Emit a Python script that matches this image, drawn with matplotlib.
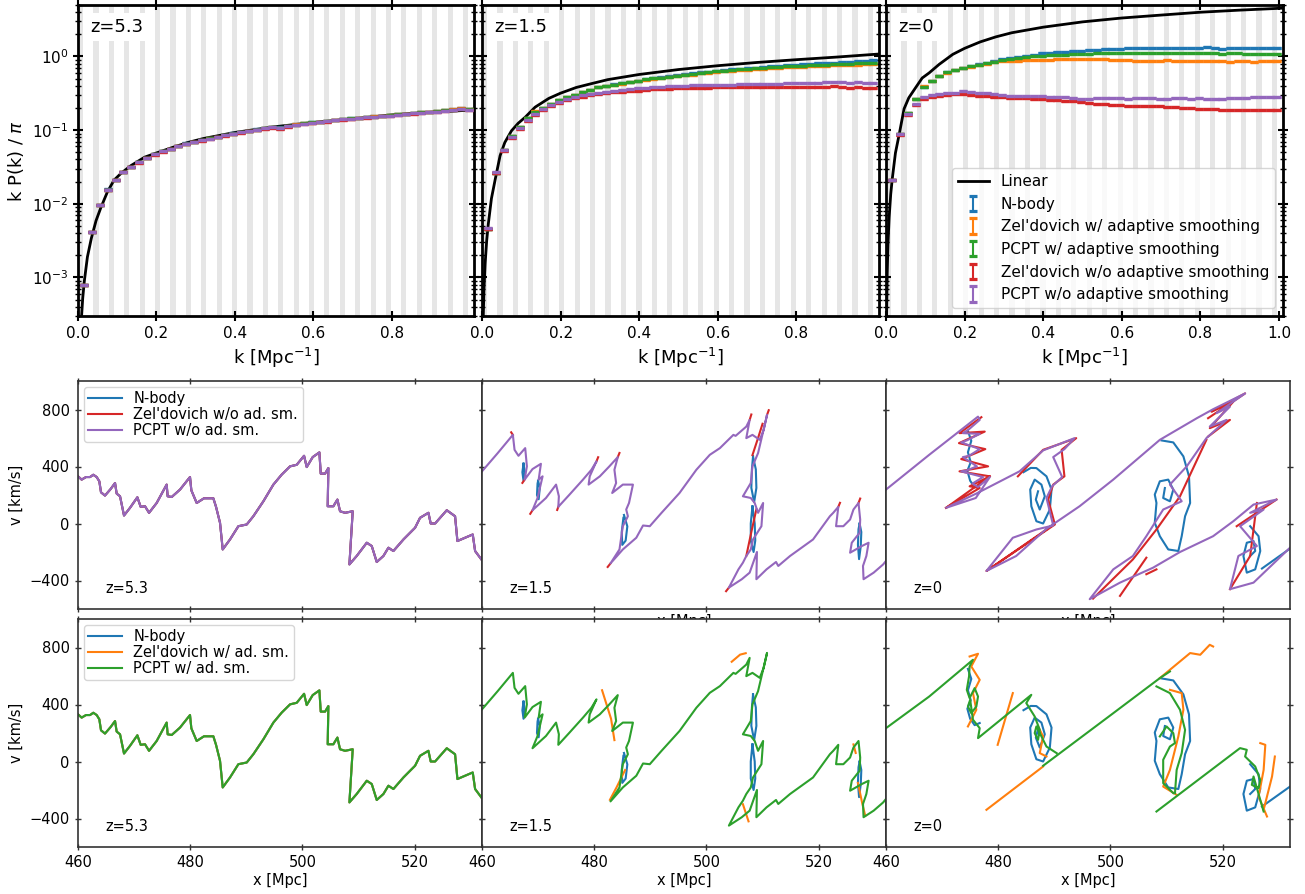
import numpy as np
import matplotlib
matplotlib.use('Agg')
import matplotlib.pyplot as plt

_ = np.nan
C_NB, C_ZA, C_PA, C_ZN, C_PN = '#1f77b4', '#ff7f0e', '#2ca02c', '#d62728', '#9467bd'

# ---------------- power spectra (top row) ----------------
k_bins = [0.016, 0.036, 0.056, 0.076, 0.096, 0.116, 0.136, 0.156, 0.176, 0.196,
          0.216, 0.236, 0.256, 0.276, 0.296, 0.316, 0.336, 0.356, 0.376, 0.396,
          0.416, 0.436, 0.456, 0.476, 0.496, 0.516, 0.536, 0.556, 0.576, 0.596,
          0.616, 0.636, 0.656, 0.676, 0.696, 0.716, 0.736, 0.756, 0.776, 0.796,
          0.816, 0.836, 0.856, 0.876, 0.896, 0.916, 0.936, 0.956, 0.976, 0.996]

lin_k = [0.0015, 0.003, 0.005, 0.008, 0.012, 0.016, 0.024, 0.034, 0.046, 0.058, 0.075, 0.092, 0.11,
         0.135, 0.17, 0.2, 0.24, 0.28, 0.32, 0.4, 0.5, 0.6, 0.7, 0.8, 0.9, 1.01]
lin_z53 = [1.2e-5, 4e-5, 1e-4, 2.4e-4, 5.2e-4, 8.8e-4, 1.9e-3, 3.4e-3, 5.9e-3, 8.8e-3, 0.0145, 0.021, 0.026,
           0.033, 0.043, 0.049, 0.058, 0.068, 0.077, 0.093, 0.111, 0.127, 0.142, 0.161, 0.175, 0.188]
lin_z15 = [7.5e-5, 2.7e-4, 6.8e-4, 1.55e-3, 3.2e-3, 5.3e-3, 0.0118, 0.022, 0.045, 0.068, 0.098, 0.124, 0.15,
           0.205, 0.27, 0.318, 0.38, 0.43, 0.485, 0.57, 0.665, 0.75, 0.83, 0.905, 0.98, 1.08]
lin_z0 = [3.1e-4, 1.1e-3, 2.8e-3, 6.5e-3, 0.0135, 0.022, 0.049, 0.09, 0.195, 0.275, 0.375, 0.51, 0.60,
          0.78, 1.07, 1.29, 1.58, 1.85, 2.1, 2.5, 2.95, 3.33, 3.65, 3.99, 4.26, 4.53]

P53_nbody = [7.8e-4, 4.1e-3, 9.6e-3, 0.0157, 0.021, 0.027, 0.032, 0.037, 0.042, 0.047, 0.052, 0.056, 0.061, 0.066, 0.070, 0.074, 0.078, 0.082, 0.086, 0.091, 0.094, 0.098, 0.103, 0.107, 0.110, 0.109, 0.115, 0.120, 0.124, 0.128, 0.131, 0.133, 0.139, 0.142, 0.144, 0.147, 0.151, 0.154, 0.158, 0.160, 0.164, 0.168, 0.171, 0.175, 0.179, 0.182, 0.188, 0.191, 0.197, 0.193]
P53_zel_ad = [7.8e-4, 4.1e-3, 9.5e-3, 0.0156, 0.021, 0.027, 0.032, 0.037, 0.042, 0.047, 0.052, 0.056, 0.060, 0.065, 0.069, 0.073, 0.078, 0.082, 0.085, 0.090, 0.094, 0.098, 0.102, 0.108, 0.110, 0.108, 0.114, 0.120, 0.124, 0.127, 0.131, 0.134, 0.138, 0.142, 0.143, 0.148, 0.150, 0.154, 0.157, 0.161, 0.164, 0.167, 0.171, 0.174, 0.178, 0.182, 0.186, 0.192, 0.198, 0.194]
P53_pc_ad = [7.8e-4, 4.1e-3, 9.5e-3, 0.0156, 0.021, 0.027, 0.032, 0.037, 0.042, 0.047, 0.052, 0.056, 0.060, 0.065, 0.070, 0.073, 0.078, 0.082, 0.086, 0.090, 0.094, 0.098, 0.102, 0.107, 0.111, 0.108, 0.114, 0.119, 0.124, 0.128, 0.131, 0.134, 0.138, 0.142, 0.144, 0.147, 0.151, 0.153, 0.157, 0.160, 0.164, 0.167, 0.170, 0.174, 0.178, 0.181, 0.186, 0.190, 0.195, 0.192]
P53_zel_no = [7.8e-4, 4.1e-3, 9.5e-3, 0.0155, 0.021, 0.027, 0.032, 0.036, 0.042, 0.046, 0.051, 0.055, 0.060, 0.064, 0.068, 0.071, 0.076, 0.080, 0.084, 0.088, 0.092, 0.096, 0.100, 0.105, 0.108, 0.105, 0.112, 0.117, 0.121, 0.125, 0.128, 0.131, 0.136, 0.139, 0.141, 0.145, 0.148, 0.151, 0.154, 0.157, 0.160, 0.164, 0.167, 0.170, 0.174, 0.177, 0.182, 0.186, 0.191, 0.188]
P53_pc_no = [7.8e-4, 4.1e-3, 9.5e-3, 0.0156, 0.021, 0.027, 0.032, 0.037, 0.042, 0.047, 0.052, 0.056, 0.060, 0.065, 0.069, 0.073, 0.077, 0.081, 0.085, 0.090, 0.093, 0.097, 0.101, 0.106, 0.109, 0.107, 0.113, 0.118, 0.123, 0.126, 0.130, 0.133, 0.137, 0.141, 0.142, 0.146, 0.149, 0.152, 0.156, 0.158, 0.162, 0.165, 0.169, 0.172, 0.176, 0.179, 0.184, 0.188, 0.192, 0.190]

P15_nbody = [0.0046, 0.026, 0.054, 0.083, 0.112, 0.146, 0.178, 0.201, 0.227, 0.256, 0.281, 0.302, 0.328, 0.352, 0.382, 0.400, 0.418, 0.435, 0.455, 0.472, 0.492, 0.508, 0.525, 0.536, 0.556, 0.572, 0.588, 0.608, 0.625, 0.640, 0.658, 0.668, 0.684, 0.695, 0.708, 0.720, 0.735, 0.752, 0.762, 0.775, 0.782, 0.792, 0.805, 0.815, 0.828, 0.835, 0.848, 0.858, 0.872, 0.885]
P15_zel_ad = [0.0046, 0.026, 0.054, 0.083, 0.112, 0.147, 0.180, 0.203, 0.230, 0.258, 0.283, 0.303, 0.327, 0.350, 0.380, 0.397, 0.413, 0.428, 0.447, 0.465, 0.484, 0.498, 0.512, 0.524, 0.541, 0.555, 0.569, 0.588, 0.604, 0.617, 0.632, 0.638, 0.652, 0.662, 0.672, 0.681, 0.692, 0.707, 0.716, 0.725, 0.728, 0.735, 0.744, 0.750, 0.758, 0.760, 0.768, 0.776, 0.783, 0.790]
P15_pc_ad = [0.0046, 0.026, 0.054, 0.083, 0.112, 0.146, 0.178, 0.200, 0.226, 0.255, 0.280, 0.300, 0.325, 0.350, 0.380, 0.398, 0.415, 0.430, 0.450, 0.468, 0.488, 0.503, 0.518, 0.530, 0.548, 0.563, 0.578, 0.598, 0.615, 0.628, 0.645, 0.652, 0.668, 0.678, 0.690, 0.700, 0.712, 0.728, 0.738, 0.748, 0.752, 0.760, 0.770, 0.778, 0.788, 0.790, 0.800, 0.808, 0.818, 0.826]
P15_zel_no = [0.0046, 0.026, 0.052, 0.078, 0.104, 0.132, 0.160, 0.188, 0.210, 0.234, 0.254, 0.270, 0.285, 0.296, 0.308, 0.316, 0.325, 0.331, 0.339, 0.345, 0.350, 0.357, 0.360, 0.364, 0.369, 0.370, 0.375, 0.378, 0.376, 0.380, 0.382, 0.380, 0.384, 0.386, 0.384, 0.386, 0.388, 0.385, 0.389, 0.390, 0.386, 0.388, 0.390, 0.384, 0.392, 0.386, 0.378, 0.382, 0.372, 0.368]
P15_pc_no = [0.0047, 0.027, 0.053, 0.080, 0.108, 0.138, 0.168, 0.196, 0.220, 0.244, 0.264, 0.283, 0.298, 0.310, 0.324, 0.334, 0.344, 0.353, 0.362, 0.372, 0.378, 0.384, 0.390, 0.394, 0.398, 0.400, 0.404, 0.408, 0.405, 0.412, 0.415, 0.412, 0.418, 0.422, 0.420, 0.424, 0.428, 0.426, 0.432, 0.436, 0.434, 0.438, 0.440, 0.448, 0.452, 0.446, 0.440, 0.444, 0.436, 0.432]

P0_nbody = [0.021, 0.090, 0.170, 0.265, 0.390, 0.470, 0.540, 0.610, 0.660, 0.700, 0.740, 0.780, 0.820, 0.860, 0.920, 0.950, 0.990, 1.030, 1.060, 1.100, 1.120, 1.140, 1.150, 1.170, 1.200, 1.220, 1.240, 1.250, 1.260, 1.270, 1.290, 1.300, 1.300, 1.310, 1.300, 1.310, 1.320, 1.300, 1.320, 1.310, 1.330, 1.300, 1.280, 1.310, 1.320, 1.300, 1.310, 1.300, 1.310, 1.320]
P0_zel_ad = [0.021, 0.090, 0.170, 0.268, 0.392, 0.472, 0.540, 0.605, 0.650, 0.690, 0.730, 0.770, 0.800, 0.830, 0.860, 0.870, 0.880, 0.890, 0.900, 0.910, 0.905, 0.915, 0.920, 0.925, 0.930, 0.935, 0.925, 0.920, 0.910, 0.900, 0.890, 0.880, 0.875, 0.870, 0.880, 0.885, 0.870, 0.875, 0.880, 0.880, 0.870, 0.875, 0.860, 0.855, 0.870, 0.865, 0.855, 0.860, 0.862, 0.865]
P0_pc_ad = [0.021, 0.090, 0.170, 0.266, 0.391, 0.470, 0.538, 0.608, 0.655, 0.695, 0.735, 0.772, 0.810, 0.850, 0.900, 0.930, 0.960, 0.990, 1.010, 1.030, 1.040, 1.050, 1.060, 1.070, 1.080, 1.090, 1.100, 1.100, 1.110, 1.120, 1.110, 1.120, 1.115, 1.120, 1.110, 1.125, 1.120, 1.100, 1.115, 1.120, 1.110, 1.105, 1.090, 1.110, 1.100, 1.090, 1.080, 1.085, 1.070, 1.065]
P0_zel_no = [0.021, 0.087, 0.160, 0.220, 0.265, 0.285, 0.295, 0.300, 0.305, 0.305, 0.300, 0.295, 0.290, 0.285, 0.280, 0.276, 0.272, 0.270, 0.265, 0.262, 0.258, 0.255, 0.250, 0.246, 0.240, 0.236, 0.230, 0.226, 0.220, 0.218, 0.215, 0.214, 0.212, 0.210, 0.211, 0.208, 0.205, 0.200, 0.202, 0.196, 0.192, 0.194, 0.190, 0.188, 0.190, 0.186, 0.185, 0.188, 0.186, 0.187]
P0_pc_no = [0.021, 0.088, 0.165, 0.230, 0.280, 0.300, 0.312, 0.318, 0.322, 0.335, 0.330, 0.320, 0.315, 0.312, 0.300, 0.295, 0.292, 0.290, 0.288, 0.290, 0.285, 0.282, 0.278, 0.272, 0.268, 0.265, 0.270, 0.272, 0.270, 0.272, 0.268, 0.270, 0.272, 0.270, 0.268, 0.266, 0.272, 0.270, 0.268, 0.270, 0.262, 0.265, 0.268, 0.270, 0.272, 0.275, 0.278, 0.280, 0.284, 0.286]

ps_labels = ["N-body", "Zel'dovich w/ adaptive smoothing", "PCPT w/ adaptive smoothing",
             "Zel'dovich w/o adaptive smoothing", "PCPT w/o adaptive smoothing"]
z_labels = ["z=5.3", "z=1.5", "z=0"]

# ---------------- phase space (rows 2 and 3) ----------------
z53_x = [460.0, 460.65, 461.43, 462.14, 462.73, 463.33, 463.80, 464.10, 464.81, 465.82, 466.60, 466.89, 467.49, 468.20, 469.27, 470.58, 471.17, 471.94, 472.66, 474.02, 475.80, 475.98, 476.70, 478.18, 479.96, 480.20, 481.15, 482.46, 484.12, 484.60, 485.31, 485.79, 487.09, 488.58, 490.07, 491.25, 493.04, 494.82, 496.30, 497.79, 498.98, 500.29, 500.76, 501.83, 503.02, 503.26, 504.03, 504.62, 504.50, 505.51, 506.23, 506.70, 507.59, 508.96, 508.37, 509.67, 511.46, 512.35, 513.24, 514.43, 515.32, 516.21, 518.0, 520.07, 520.96, 522.45, 522.86, 523.64, 525.72, 527.20, 527.62, 528.98, 530.35, 530.77, 531.96]
z53_v = [331, 308, 326, 326, 342, 326, 296, 219, 196, 242, 284, 210, 191, 56, 110, 184, 117, 121, 75, 144, 273, 191, 186, 238, 326, 233, 144, 177, 177, 117, 5, -182, -112, -19, -7, 51, 156, 273, 343, 401, 412, 475, 396, 466, 499, 350, 350, 389, 121, 121, 168, 86, 75, 86, -287, -228, -135, -158, -270, -228, -170, -193, -112, -30, 40, 75, 0, 0, 93, 51, -123, -100, -77, -193, -256]

pc15_x = [460.0, 462.8, 465.5, 465.8, 466.5, 467.7, 468.0, 467.6, 469.0, 470.5, 470.1, 470.8, 469.9, 469.0, 471.4, 473.2, 473.7, 473.6, 475.6, 478.0, 479.5, 480.4, 479.2, 479.0, 481.0, 482.7, 484.2, 483.6, 483.9, 483.2, 485.1, 486.9, 486.2, 485.7, 486.0, 485.1, 484.5, 482.9, 485.1, 487.5, 488.7, 489.9, 492.0, 495.2, 498.2, 500.6, 502.4, 504.8, 505.2, 507.1, 507.7, 507.1, 508.2, 509.5, 510.2, 510.8, 509.2, 508.2, 507.9, 506.5, 507.9, 508.6, 509.2, 510.1, 509.8, 508.3, 507.9, 507.1, 506.5, 505.7, 504.0, 506.3, 507.7, 509.0, 508.9, 510.7, 512.4, 512.8, 514.9, 519.0, 522.0, 522.6, 523.5, 523.1, 524.4, 525.6, 526.2, 527.1, 527.4, 527.3, 525.9, 525.6, 527.7, 528.9, 528.5, 527.9, 528.0, 529.8, 531.5, 532.7]
pc15_v = [366, 494, 622, 517, 475, 529, 401, 308, 382, 419, 308, 331, 179, 93, 179, 273, 191, 117, 203, 308, 377, 436, 331, 273, 331, 401, 466, 377, 284, 214, 273, 273, 144, 98, 51, -19, -182, -280, -182, -100, -14, -19, 75, 214, 377, 482, 529, 622, 615, 680, 727, 599, 622, 587, 657, 762, 494, 401, 284, 191, 179, 144, 75, 144, -19, -112, -182, -228, -275, -322, -450, -391, -345, -200, -391, -322, -270, -298, -228, -112, 51, 75, 117, -19, -19, 28, 98, 144, 28, -65, -135, -205, -158, -135, -228, -298, -391, -345, -287, -228]

nb15_x = [470.0, 470.3, 470.1, 469.8, 469.9, 470.0, _, 485.3, 485.9, 485.6, 485.0, 484.9, 485.2, _, 508.3, 508.8, 508.9, 508.5, 508.0, 508.1, 508.3, _, 508.2, 508.6, 508.7, 508.4, 507.9, 507.9, 508.2, _, 527.3, 527.6, 527.5, 527.2, 527.0, 527.1, 527.3, _, 467.4, 467.6, 467.4, 467.2, 467.4]
nb15_v = [300, 250, 170, 200, 280, 300, _, 60, -20, -120, -150, -60, 40, _, 470, 380, 250, 150, 250, 380, 470, _, 120, 0, -120, -200, -120, 0, 120, _, 0, -60, -160, -250, -150, -40, 0, _, 420, 360, 300, 360, 420]

zn15_x = [467.2, 467.6, _, 468.6, 469.0, _, 473.4, 473.6, _, 480.7, 480.4, _, 484.5, 484.2, _, 482.4, 482.9, _, 508.0, 507.7, _, 511.1, 510.8, _, 503.5, 504.0, _, 523.8, 523.5, _, 527.4, 527.1, _, 507.1, 508.0, 508.9, _, 508.2, 509.2, 510.0, _, 465.2, 465.5]
zn15_v = [285, 308, _, 68, 93, _, 95, 117, _, 465, 436, _, 495, 466, _, -305, -280, _, 765, 727, _, 795, 762, _, -475, -450, _, 145, 117, _, 175, 144, _, -228, -60, 100, _, 480, 600, 700, _, 640, 622]

za15_x = [481.4, 483.0, 483.6, _, 482.8, 484.0, 485.5, _, 504.5, 506.0, 507.0, _, 506.5, 507.5, _, 527.0, 527.8, 528.3, _, 526.2, 526.6]
za15_v = [500, 300, 150, _, -269, -180, -60, _, 700, 750, 760, _, -300, -420, _, -150, -300, -380, _, 120, 60]

pn0_x = [460.0, 467.7, 476.4, 476.7, 474.8, 473.7, 476.7, 474.4, 473.4, 476.7, 474.8, 473.7, 476.2, 474.4, 473.4, 477.3, 475.4, 476.4, 478.5, 476.0, 470.7,
         476.1, 483.8, 488.0, 493.6, 491.8, 489.8, 491.4, 489.6, 488.6, 489.8, 486.8, 482.6, 477.9, 483.2, 488.6,
         494.5, 500.5, 508.8, 515.4, 518.3, 524.0, 518.9, 521.3, 517.7, 520.7, 517.1, 513.6, 510.6, 512.7, 509.4, 506.4, 504.0, 500.5, 496.3,
         501.7, 507.6, 512.4, 518.3, 521.9, 525.5, 529.6, 524.9, 527.3, 523.1, 526.1, 522.8, 521.3, 525.5, 532.0]
pn0_v = [238, 482, 750, 727, 662, 634, 629, 583, 569, 522, 475, 466, 401, 373, 366, 326, 280, 256, 326, 179, 110,
         210, 366, 513, 599, 522, 466, 326, 261, 179, -14, -42, -100, -333, -228, -37,
         121, 308, 587, 739, 802, 913, 774, 820, 680, 727, 599, 401, 273, 156, 98, -89, -228, -322, -531,
         -415, -310, -200, -89, 16, 133, 168, 75, 98, -19, -158, -228, -461, -415, -170]

zn0_x = [477.0, 473.1, 477.6, 473.0, 477.7, 473.4, 478.2, 473.1, 478.5, 474.9, 476.7, 470.7, _, 470.7, 478.5, _,
         483.5, 488.0, 493.9, 491.3, 491.8, 489.8, 488.9, 490.1, 477.9, 488.6, _,
         496.9, 504.0, 508.2, 512.4, 517.1, _, 517.4, 524.0, 518.0, 521.9, 517.7, 521.3, 517.4, _,
         522.5, 529.6, _, 521.3, 524.9, 526.1, _, 501.7, 506.4, _, 506.4, 508.2]
zn0_v = [746, 634, 645, 564, 522, 452, 401, 366, 331, 261, 249, 110, _, 110, 331, _,
         331, 517, 599, 517, 331, 273, 168, -7, -333, -42, _,
         -527, -252, -42, 191, 587, _, 739, 913, 785, 855, 669, 727, 610, _,
         -19, 168, _, -461, -228, 144, _, -508, -240, _, -356, -322]

nb0_x = [474.6, 475.2, 474.6, 475.1, 474.5, 475.0, 475.8, 476.7, _,
         484.5, 485.8, 486.8, 488.6, 489.5, 489.2, 488.0, 486.8, 485.9, 485.7, 486.5, 487.7, 488.3, 487.4, 486.7, 487.1, _,
         509.1, 511.2, 513.0, 514.0, 514.2, 513.3, 512.7, 512.1, 510.3, 508.8, 507.9, 508.2, 507.9, 508.8, 510.3, 511.2, 510.6, 509.4, 509.7, _,
         524.9, 526.4, 526.7, 525.8, 524.3, 523.7, 524.3, 525.5, 525.8, 524.9, _, 527.0, 532.0]
nb0_v = [650, 580, 500, 430, 370, 300, 255, 270, _,
         360, 390, 389, 331, 238, 98, 0, 16, 121, 238, 308, 273, 191, 98, 168, 226, _,
         583, 569, 471, 331, 144, 51, -89, -193, -182, -89, 5, 144, 203, 296, 308, 238, 156, 179, 249, _,
         -19, -89, -193, -322, -345, -228, -135, -123, -193, -228, _, -316, -176]

pa0_x = [460.0, 467.7, 475.5, 474.9, 474.8, 474.4, 474.9, 475.8, 476.4, 476.1, 475.2, 474.6, 475.0, 475.5, 476.7, 476.4,
         485.9, 485.0, 486.5, 487.4, 487.1, 486.5, 486.8, 487.7, 488.6, 490.4, _,
         488.0, 500.5, 508.8, 510.6, _,
         508.2, 510.6, 512.4, 513.3, 512.7, 511.8, 511.5, _, 508.8, 510.0, 511.2, 511.5, 510.6, 509.4, 509.4, 511.2, _,
         508.2, 523.1, 524.3, 524.0, 525.8, 526.7, 526.4, 525.2, 525.5, 527.3]
pa0_v = [234, 456, 714, 667, 597, 503, 445, 515, 456, 386, 339, 386, 433, 293, 234, 164,
         468, 410, 316, 222, 152, 199, 246, 176, 105, 59, _,
         -30, 339, 585, 632, _,
         527, 480, 363, 222, 59, -59, -222, _, 176, 246, 199, 129, 105, 12, -152, -222, _,
         -351, 94, 82, 35, -35, -129, -187, -164, -105, -351]

za0_x = [477.9, 488.0, _, 479.9, 482.6, _, 508.8, 514.2, 516.0, 517.7, 518.3, _,
         474.9, 476.4, 475.2, 476.7, 475.5, 476.1, 474.6, _, 487.1, 488.0, 487.4, 488.6, _,
         510.6, 512.7, 513.0, 512.1, 510.6, 509.4, 511.8, _,
         526.7, 527.6, 527.3, 526.4, 527.9, _, 529.3, 528.8, 527.3]
za0_v = [-339, -35, _, 117, 480, _, 585, 761, 749, 819, 807, _,
         737, 756, 667, 573, 480, 363, 246, _, 246, 176, 59, 35, _,
         503, 480, 363, 176, -59, -176, -234, _,
         129, 117, -59, -246, -386, _, 35, -105, -339]

# ---------------- figure ----------------
W, H = 1305, 894
fig = plt.figure(figsize=(W / 100, H / 100), dpi=100)


def rect(l, t, r, b):
    return [l / W, 1 - b / H, (r - l) / W, (b - t) / H]


top_boxes = [rect(78, 5, 474, 316), rect(482, 5, 879, 316), rect(886, 5, 1283, 316)]
mid_boxes = [rect(78, 381, 482, 609), rect(482, 381, 886, 609), rect(886, 381, 1290, 609)]
bot_boxes = [rect(78, 619, 482, 847), rect(482, 619, 886, 847), rect(886, 619, 1290, 847)]

top_lin = [lin_z53, lin_z15, lin_z0]
top_series = [
    [P53_nbody, P53_zel_ad, P53_pc_ad, P53_zel_no, P53_pc_no],
    [P15_nbody, P15_zel_ad, P15_pc_ad, P15_zel_no, P15_pc_no],
    [P0_nbody, P0_zel_ad, P0_pc_ad, P0_zel_no, P0_pc_no],
]
colors = [C_NB, C_ZA, C_PA, C_ZN, C_PN]
kf = 2 * np.pi / 160.0
zero_err = [0.0] * len(k_bins)

for i in range(3):
    ax = fig.add_axes(top_boxes[i])
    for n in range(27):
        ax.axvspan(n * kf, n * kf + 0.0131, color='#e6e6e6', lw=0, zorder=0)
    ax.plot(lin_k, top_lin[i], color='k', lw=2, zorder=2, label='Linear')
    for vals, c, lab in zip(top_series[i], colors, ps_labels):
        ax.errorbar(k_bins, vals, yerr=zero_err, fmt='none', ecolor=c, elinewidth=1.5,
                    capsize=2.9, capthick=2.3, label=lab, zorder=3)
    ax.set_yscale('log')
    ax.set_xlim(0, 1.01)
    ax.set_ylim(3e-4, 5)
    if i < 2:
        ax.set_xticks([0, 0.2, 0.4, 0.6, 0.8])
    else:
        ax.set_xticks([0, 0.2, 0.4, 0.6, 0.8, 1.0])
    ax.tick_params(which='major', direction='inout', top=True, right=True, length=7, width=1.5, labelsize=11)
    ax.tick_params(which='minor', direction='inout', top=True, right=True, length=4, width=1)
    for sp in ax.spines.values():
        sp.set_linewidth(2)
    ax.set_xlabel(r'k [Mpc$^{-1}$]', fontsize=13)
    if i == 0:
        ax.set_ylabel(r'k P(k) / $\pi$', fontsize=13)
    else:
        ax.tick_params(labelleft=False)
    ax.text(0.03, 0.958, z_labels[i], transform=ax.transAxes, fontsize=13, va='top', ha='left',
            zorder=5, bbox=dict(facecolor='white', edgecolor='none', pad=3.5))
    if i == 2:
        ax.legend(loc='lower right', fontsize=11, borderaxespad=0.5)


def style_ps(ax, left, show_xlabels, xlabel):
    ax.set_xlim(460, 532)
    ax.set_ylim(-600, 1000)
    ax.set_xticks([460, 480, 500, 520])
    ax.set_yticks([-400, 0, 400, 800])
    ax.tick_params(direction='inout', top=True, right=True, length=5, width=1, color='#333333',
                   labelsize=10.5, labelleft=left, labelbottom=show_xlabels)
    for sp in ax.spines.values():
        sp.set_color('#333333')
        sp.set_linewidth(1.2)
    if left:
        ax.set_ylabel('v [km/s]', fontsize=10.5)
    if xlabel:
        ax.set_xlabel('x [Mpc]', fontsize=10.5, labelpad=1 if not show_xlabels else 2)


# middle row: w/o adaptive smoothing
mid_nb = [(z53_x, z53_v), (nb15_x, nb15_v), (nb0_x, nb0_v)]
mid_zn = [(z53_x, z53_v), (zn15_x, zn15_v), (zn0_x, zn0_v)]
mid_pn = [(z53_x, z53_v), (pc15_x, pc15_v), (pn0_x, pn0_v)]
for i in range(3):
    ax = fig.add_axes(mid_boxes[i])
    ax.plot(*mid_nb[i], color=C_NB, lw=1.5, label='N-body')
    ax.plot(*mid_zn[i], color=C_ZN, lw=1.5, label="Zel'dovich w/o ad. sm.")
    ax.plot(*mid_pn[i], color=C_PN, lw=1.5, label='PCPT w/o ad. sm.')
    style_ps(ax, i == 0, False, i > 0)
    ax.text(0.067, 0.055, z_labels[i], transform=ax.transAxes, fontsize=10.5, va='bottom')
    if i == 0:
        ax.legend(loc='upper left', fontsize=10.5, handlelength=2.3, labelspacing=0.05,
                  borderpad=0.3, borderaxespad=0.4)

# bottom row: w/ adaptive smoothing
bot_nb = [(z53_x, z53_v), (nb15_x, nb15_v), (nb0_x, nb0_v)]
bot_za = [(z53_x, z53_v), (za15_x, za15_v), (za0_x, za0_v)]
bot_pa = [(z53_x, z53_v), (pc15_x, pc15_v), (pa0_x, pa0_v)]
for i in range(3):
    ax = fig.add_axes(bot_boxes[i])
    ax.plot(*bot_nb[i], color=C_NB, lw=1.5, label='N-body')
    ax.plot(*bot_za[i], color=C_ZA, lw=1.5, label="Zel'dovich w/ ad. sm.")
    ax.plot(*bot_pa[i], color=C_PA, lw=1.5, label='PCPT w/ ad. sm.')
    style_ps(ax, i == 0, True, True)
    ax.text(0.067, 0.055, z_labels[i], transform=ax.transAxes, fontsize=10.5, va='bottom')
    if i == 0:
        ax.legend(loc='upper left', fontsize=10.5, handlelength=2.3, labelspacing=0.05,
                  borderpad=0.3, borderaxespad=0.4)

fig.savefig('out.png', dpi=100)
